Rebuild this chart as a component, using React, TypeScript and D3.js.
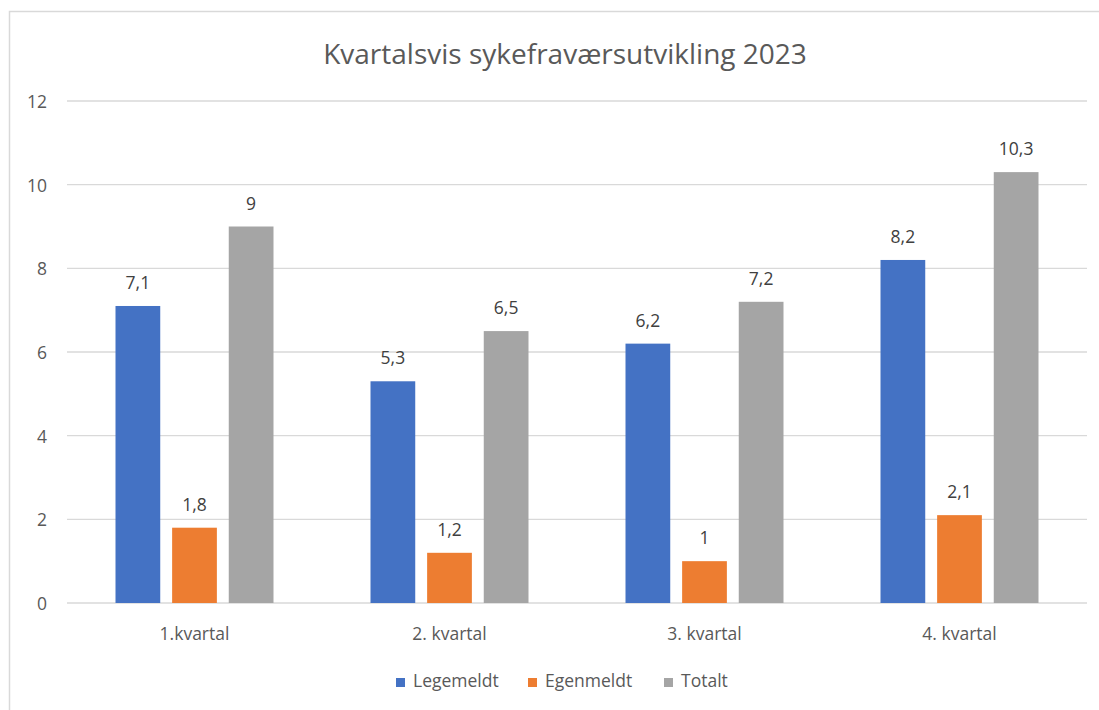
import React, { useEffect, useRef } from "react";
import * as d3 from "d3";

const categories = ["1.kvartal", "2. kvartal", "3. kvartal", "4. kvartal"];
const seriesNames = ["Legemeldt", "Egenmeldt", "Totalt"];
const legemeldt = [7.1, 5.3, 6.2, 8.2];
const egenmeldt = [1.8, 1.2, 1.0, 2.1];
const totalt = [9, 6.5, 7.2, 10.3];
const yTicks = [0, 2, 4, 6, 8, 10, 12];
const colors = ["#4472C4", "#ED7D31", "#A5A5A5"];

const FONT = "'Open Sans', 'Noto Sans', sans-serif";

const App = () => {
  const svgRef = useRef<SVGSVGElement>(null);

  useEffect(() => {
    const W = 1099;
    const H = 710;
    const svg = d3.select(svgRef.current);
    svg.selectAll("*").remove();
    svg.attr("width", W).attr("height", H);

    svg.append("rect").attr("width", W).attr("height", H).attr("fill", "#fff");

    // chart frame (only left and top edges visible in the crop)
    svg
      .append("rect")
      .attr("x", 9.5)
      .attr("y", 11.5)
      .attr("width", W + 20)
      .attr("height", H + 20)
      .attr("fill", "none")
      .attr("stroke", "#d9d9d9")
      .attr("stroke-width", 1.5);

    const left = 67;
    const right = 1087;
    const top = 101;
    const bottom = 603;

    const series = [legemeldt, egenmeldt, totalt];
    const rows = categories.map((c, i) => ({
      cat: c,
      vals: series.map((s) => s[i]),
    }));

    const x0 = d3.scaleBand().domain(categories).range([left, right]).paddingInner(0).paddingOuter(0);
    const groupW = 158;
    const x1 = d3
      .scaleBand<number>()
      .domain([0, 1, 2])
      .range([0, groupW])
      .paddingInner(0.21)
      .paddingOuter(0);
    const y = d3.scaleLinear().domain([0, 12]).range([bottom, top]);

    // title
    svg
      .append("text")
      .attr("x", 565)
      .attr("y", 64)
      .attr("text-anchor", "middle")
      .attr("font-family", FONT)
      .attr("font-size", 28)
      .attr("fill", "#595959")
      .text("Kvartalsvis sykefraværsutvikling 2023");

    // gridlines
    svg
      .append("g")
      .selectAll("line")
      .data(yTicks)
      .enter()
      .append("line")
      .attr("x1", left)
      .attr("x2", right)
      .attr("y1", (d) => y(d))
      .attr("y2", (d) => y(d))
      .attr("stroke", "#d9d9d9")
      .attr("stroke-width", 1.3);

    // y tick labels
    svg
      .append("g")
      .selectAll("text")
      .data(yTicks)
      .enter()
      .append("text")
      .attr("x", 47)
      .attr("y", (d) => y(d) + 1)
      .attr("dy", "0.35em")
      .attr("text-anchor", "end")
      .attr("font-family", FONT)
      .attr("font-size", 17.5)
      .attr("fill", "#595959")
      .text((d) => d);

    const groups = svg
      .append("g")
      .selectAll("g")
      .data(rows)
      .enter()
      .append("g")
      .attr("transform", (d) => `translate(${x0(d.cat)! + x0.bandwidth() / 2 - groupW / 2},0)`);

    groups
      .selectAll("rect")
      .data((d) => d.vals)
      .enter()
      .append("rect")
      .attr("x", (_, i) => x1(i)!)
      .attr("y", (d) => y(d))
      .attr("width", x1.bandwidth())
      .attr("height", (d) => y(0) - y(d))
      .attr("fill", (_, i) => colors[i]);

    groups
      .selectAll("text")
      .data((d) => d.vals)
      .enter()
      .append("text")
      .attr("x", (_, i) => x1(i)! + x1.bandwidth() / 2)
      .attr("y", (d) => y(d) - 17)
      .attr("text-anchor", "middle")
      .attr("font-family", FONT)
      .attr("font-size", 17.5)
      .attr("fill", "#404040")
      .text((d) => String(d).replace(".", ","));

    // category labels
    svg
      .append("g")
      .selectAll("text")
      .data(categories)
      .enter()
      .append("text")
      .attr("x", (d) => x0(d)! + x0.bandwidth() / 2)
      .attr("y", 640)
      .attr("text-anchor", "middle")
      .attr("font-family", FONT)
      .attr("font-size", 17.5)
      .attr("fill", "#595959")
      .text((d) => d);

    // legend
    const legendX = [396, 528, 664];
    const leg = svg
      .append("g")
      .selectAll("g")
      .data(seriesNames)
      .enter()
      .append("g")
      .attr("transform", (_, i) => `translate(${legendX[i]},687)`);
    leg
      .append("rect")
      .attr("x", 0)
      .attr("y", -9)
      .attr("width", 9)
      .attr("height", 9)
      .attr("fill", (_, i) => colors[i]);
    leg
      .append("text")
      .attr("x", 17)
      .attr("y", 0)
      .attr("font-family", FONT)
      .attr("font-size", 17.5)
      .attr("fill", "#595959")
      .text((d) => d);
  }, []);

  return (
    <div style={{ position: "absolute", left: 0, top: 0 }}>
      <svg ref={svgRef}></svg>
    </div>
  );
};

export default App;
